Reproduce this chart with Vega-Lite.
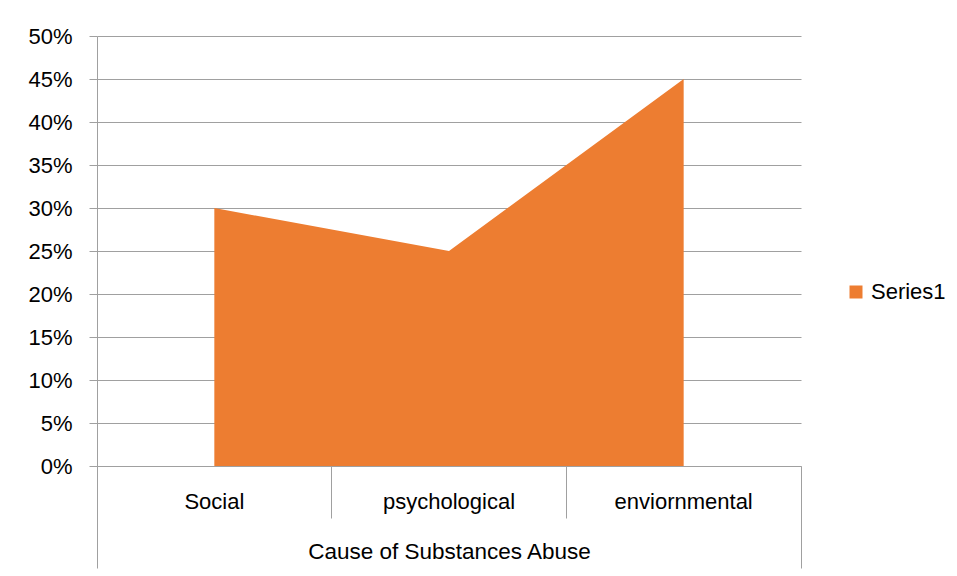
{
  "$schema": "https://vega.github.io/schema/vega-lite/v6.json",
  "width": 704,
  "height": 430,
  "autosize": {"type": "none"},
  "padding": {"left": 97, "top": 36, "right": 156, "bottom": 110},
  "background": "white",
  "config": {
    "view": {"stroke": null},
    "font": "Liberation Sans",
    "axis": {"labelFont": "Liberation Sans", "titleFont": "Liberation Sans", "labelColor": "#000000", "titleColor": "#000000", "titleFontWeight": "normal"}
  },
  "data": {
    "values": [
      {"cause": "Social", "value": 0.30, "series": "Series1"},
      {"cause": "psychological", "value": 0.25, "series": "Series1"},
      {"cause": "enviornmental", "value": 0.45, "series": "Series1"}
    ]
  },
  "mark": {"type": "area", "opacity": 1},
  "encoding": {
    "x": {
      "field": "cause",
      "type": "nominal",
      "sort": null,
      "scale": {"type": "band", "paddingInner": 0, "paddingOuter": 0},
      "axis": {
        "title": "Cause of Substances Abuse",
        "titleFontSize": 22.5,
        "titleBaseline": "alphabetic",
        "titleY": 92,
        "labelAngle": 0,
        "labelFontSize": 22,
        "labelBaseline": "alphabetic",
        "labelPadding": {"condition": {"test": "datum.value === 'enviornmental'", "value": -60}, "value": -10},
        "bandPosition": 1,
        "tickExtra": true,
        "tickSize": {"condition": {"test": "datum.value === 'enviornmental' || datum.extra", "value": 102}, "value": 52},
        "tickColor": "#a0a0a0",
        "domainColor": "#a0a0a0",
        "tickWidth": 1,
        "domainWidth": 1,
        "grid": false
      }
    },
    "y": {
      "field": "value",
      "type": "quantitative",
      "scale": {"domain": [0, 0.5], "nice": false},
      "axis": {
        "title": null,
        "format": ".0%",
        "values": [0, 0.05, 0.1, 0.15, 0.2, 0.25, 0.3, 0.35, 0.4, 0.45, 0.5],
        "labelFontSize": 22,
        "labelPadding": 17,
        "tickSize": 8,
        "tickColor": "#a0a0a0",
        "domainColor": "#a0a0a0",
        "gridColor": "#a0a0a0",
        "gridWidth": 1,
        "grid": true
      }
    },
    "color": {
      "field": "series",
      "type": "nominal",
      "scale": {"range": ["#ED7D31"]},
      "legend": {
        "title": null,
        "orient": "none",
        "legendX": 748,
        "legendY": 245,
        "symbolType": "square",
        "symbolSize": 169,
        "symbolStrokeWidth": 0,
        "labelFontSize": 22,
        "labelFont": "Liberation Sans",
        "labelColor": "#000000",
        "labelOffset": 4
      }
    }
  }
}
